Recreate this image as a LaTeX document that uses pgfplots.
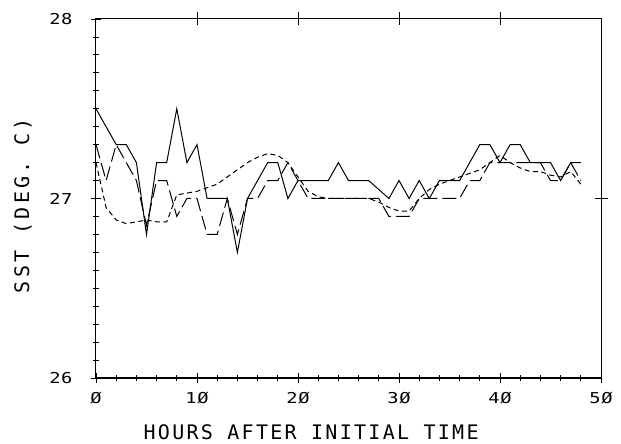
\documentclass[border=0pt]{standalone}
\usepackage{pgfplots}
\pgfplotsset{compat=1.18}
\usepackage{fontspec}
\newfontfamily\tickfont[FakeStretch=1.25, LetterSpace=4]{DejaVu Sans Mono}
\newfontfamily\xlabfont[LetterSpace=11.5]{DejaVu Sans Mono}
\newfontfamily\ylabfont[LetterSpace=17]{DejaVu Sans Mono}

\begin{document}
\begin{tikzpicture}
\begin{axis}[
  at={(0,0)}, anchor=south west,
  scale only axis, width=505pt, height=359pt,
  xmin=0, xmax=50, ymin=26, ymax=28,
  axis line style={line width=1pt},
  xtick={0,10,...,50}, xticklabels={Ø,1Ø,2Ø,3Ø,4Ø,5Ø},
  ytick={26,27,28}, yticklabels={26,27,28},
  minor x tick num=4, minor y tick num=9,
  xtick pos=left, ytick pos=left,
  tick align=center,
  major tick length=10pt, minor tick length=6pt,
  every tick/.style={black, line width=0.8pt},
  ticklabel style={font=\tickfont\fontsize{15}{15}\selectfont},
  xticklabel style={yshift=-6pt},
  yticklabel style={xshift=-15pt},
  xlabel={HOURS AFTER INITIAL TIME},
  ylabel={SST (DEG. C)},
  xlabel style={font=\xlabfont\fontsize{20}{20}\selectfont,
    at={(axis description cs:0.426,-0.152)}, anchor=center},
  ylabel style={font=\ylabfont\fontsize{20}{20}\selectfont,
    at={(axis description cs:-0.1446,0.48)}, anchor=center},
]
% solid
\addplot[black, line width=1pt] coordinates {
(0,27.5)(1,27.4)(2,27.3)(3,27.3)(4,27.2)(5,26.8)(6,27.2)(7,27.2)(8,27.5)(9,27.2)
(10,27.3)(11,27.0)(12,27.0)(13,27.0)(14,26.7)(15,27.0)(16,27.1)(17,27.2)(18,27.2)(19,27.0)
(20,27.1)(21,27.1)(22,27.1)(23,27.1)(24,27.2)(25,27.1)(26,27.1)(27,27.1)(28,27.05)(29,27.0)
(30,27.1)(31,27.0)(32,27.1)(33,27.0)(34,27.1)(35,27.1)(36,27.1)(37,27.2)(38,27.3)(39,27.3)
(40,27.2)(41,27.3)(42,27.3)(43,27.2)(44,27.2)(45,27.2)(46,27.1)(47,27.2)(48,27.2)
};
% long dash
\addplot[black, line width=1pt, dash pattern=on 14pt off 5pt] coordinates {
(0,27.3)(1,27.1)(2,27.3)(3,27.2)(4,27.1)(5,26.85)(6,27.1)(7,27.1)(8,26.9)(9,27.0)
(10,27.0)(11,26.8)(12,26.8)(13,27.0)(14,26.8)(15,27.0)(16,27.0)(17,27.1)(18,27.1)(19,27.2)
(20,27.1)(21,27.0)(22,27.0)(23,27.0)(24,27.0)(25,27.0)(26,27.0)(27,27.0)(28,27.0)(29,26.9)
(30,26.9)(31,26.9)(32,27.0)(33,27.0)(34,27.0)(35,27.0)(36,27.0)(37,27.1)(38,27.1)(39,27.2)
(40,27.2)(41,27.2)(42,27.2)(43,27.2)(44,27.2)(45,27.1)(46,27.1)(47,27.2)(48,27.1)
};
% short dash
\addplot[black, line width=1pt, dash pattern=on 5pt off 3.5pt] coordinates {
(0,27.2)(1,26.95)(2,26.88)(3,26.86)(4,26.87)(5,26.88)(6,26.87)(7,26.87)(8,27.02)(9,27.03)
(10,27.04)(11,27.06)(12,27.08)(13,27.12)(14,27.16)(15,27.2)(16,27.23)(17,27.25)(18,27.24)(19,27.2)
(20,27.12)(21,27.04)(22,27.01)(23,27.0)(24,27.0)(25,27.0)(26,27.0)(27,27.0)(28,26.98)(29,26.95)
(30,26.93)(31,26.93)(32,27.0)(33,27.05)(34,27.08)(35,27.1)(36,27.12)(37,27.14)(38,27.16)(39,27.2)
(40,27.24)(41,27.2)(42,27.17)(43,27.15)(44,27.15)(45,27.13)(46,27.12)(47,27.15)(48,27.08)
};
\end{axis}
\begin{axis}[
  at={(0,0)}, anchor=south west,
  scale only axis, width=505pt, height=359pt,
  xmin=0, xmax=50, ymin=26, ymax=28,
  axis line style={line width=1pt},
  xtick={10,20,30,40}, ytick={27},
  xticklabels={}, yticklabels={},
  xtick pos=right, ytick pos=right,
  tick align=center, major tick length=13pt,
  every tick/.style={black, line width=0.8pt},
]
\end{axis}
\pgfresetboundingbox
\path[use as bounding box] (-96pt,-66pt) rectangle (525pt,378pt);
\end{tikzpicture}
\end{document}
